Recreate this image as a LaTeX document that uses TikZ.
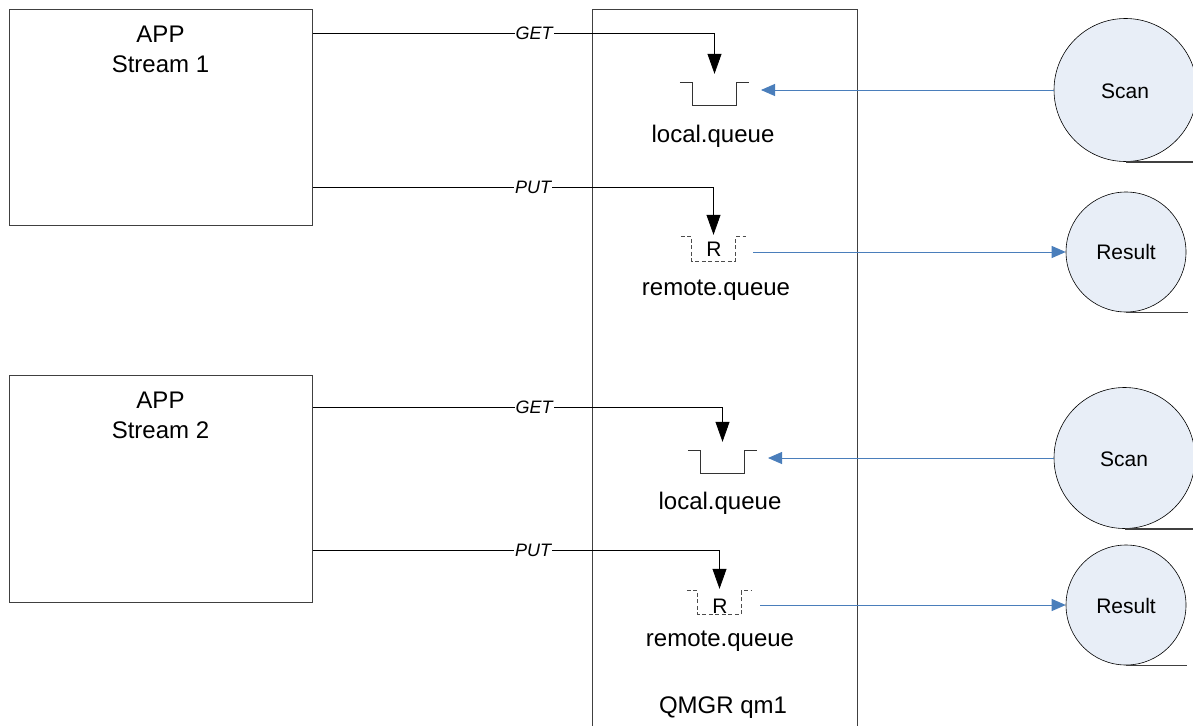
\documentclass[tikz,border=0pt]{standalone}
\usepackage{fontspec}
\setmainfont{Liberation Sans}
\usetikzlibrary{arrows.meta}
\definecolor{lnblue}{HTML}{4A7EBB}
\definecolor{circfill}{HTML}{E8EEF7}
\definecolor{boxline}{HTML}{404040}
\begin{document}
\begin{tikzpicture}[x=1pt,y=-1pt,
  appbox/.style={draw=boxline, line width=0.9pt, anchor=north west, minimum width=303pt, inner sep=0pt},
  qmgrbox/.style={draw=boxline, line width=0.9pt, anchor=north west, minimum width=265pt, minimum height=740pt, inner sep=0pt},
  bigtext/.style={anchor=base, inner sep=0pt, font=\fontsize{24}{28}\selectfont},
  circtext/.style={anchor=base, inner sep=0pt, font=\fontsize{21}{25}\selectfont},
  flowlbl/.style={fill=white, inner xsep=1pt, inner ysep=2pt, font=\fontsize{18}{21}\selectfont\itshape},
  qslot/.style={minimum width=43pt, inner sep=0pt},
  qline/.style={draw=black!80, line width=0.9pt},
  rline/.style={draw=black!70, line width=0.9pt, dash pattern=on 4pt off 2.5pt},
  flow/.style={draw=black, line width=0.8pt, -{Triangle[length=20pt,width=14pt]}},
  blueflow/.style={draw=lnblue, line width=0.9pt, -{Triangle[length=14pt,width=12pt]}},
  tape/.style={circle, draw=black, line width=0.6pt, fill=circfill, inner sep=0pt},
  tapeline/.style={draw=black!75, line width=1.4pt}
]
\useasboundingbox (0,0) rectangle (1193,725);
\clip (0,0) rectangle (1193,725);

% application boxes
\node[appbox, minimum height=216pt] (app1) at (9,9) {};
\node[bigtext] (app1a) at (160.5,42) {APP};
\node[bigtext] (app1b) at (160.5,73) {Stream 1};
\node[appbox, minimum height=227pt] (app2) at (9,375) {};
\node[bigtext] (app2a) at (160.5,408) {APP};
\node[bigtext] (app2b) at (160.5,438) {Stream 2};

% queue manager
\node[qmgrbox] (qmgr) at (592,9) {};
\node[bigtext] (qmgrt) at (723,713) {QMGR qm1};

% queue symbols
\node[qslot, minimum height=22pt] (lq1) at (714.5,94) {};
\node[qslot, minimum height=24pt] (rq1) at (713.5,249) {};
\node[qslot, minimum height=22pt] (lq2) at (722.5,462) {};
\node[qslot, minimum height=23pt] (rq2) at (719.5,602.5) {};

\draw[qline] ([xshift=-13pt]lq1.north west) -- (lq1.north west) -- (lq1.south west) -- (lq1.south east) -- (lq1.north east) -- ([xshift=13pt]lq1.north east);
\draw[qline] ([xshift=-13pt]lq2.north west) -- (lq2.north west) -- (lq2.south west) -- (lq2.south east) -- (lq2.north east) -- ([xshift=13pt]lq2.north east);
\draw[rline] ([xshift=-11pt]rq1.north west) -- (rq1.north west) -- (rq1.south west) -- (rq1.south east) -- (rq1.north east) -- ([xshift=11pt]rq1.north east);
\draw[rline] ([xshift=-11pt]rq2.north west) -- (rq2.north west) -- (rq2.south west) -- (rq2.south east) -- (rq2.north east) -- ([xshift=11pt]rq2.north east);

\node[circtext] (r1) at (714,256) {R};
\node[circtext] (r2) at (720,613) {R};

\node[bigtext] (lq1t) at (713,142) {local.queue};
\node[bigtext] (rq1t) at (716,295) {remote.queue};
\node[bigtext] (lq2t) at (720,509) {local.queue};
\node[bigtext] (rq2t) at (720,646) {remote.queue};

% black flows from the applications
\draw[flow] ([yshift=-24pt]app1.north east) -| ([yshift=9pt]lq1.north);
\draw[flow] ([yshift=-178pt]app1.north east) -| ([yshift=2pt]rq1.north);
\draw[flow] ([yshift=-32pt]app2.north east) -| ([yshift=9pt]lq2.north);
\draw[flow] ([yshift=-175pt]app2.north east) -| ([yshift=2pt]rq2.north);
\node[flowlbl] (get1) at (534,33) {GET};
\node[flowlbl] (put1) at (533,187) {PUT};
\node[flowlbl] (get2) at (534,407) {GET};
\node[flowlbl] (put2) at (533,550) {PUT};

% tape symbols
\node[tape, minimum size=143pt] (scan1) at (1125.5,90) {};
\node[circtext] (scan1t) at (1125,98) {Scan};
\node[tape, minimum size=120pt] (res1) at (1126,252) {};
\node[circtext] (res1t) at (1126,259) {Result};
\node[tape, minimum size=141pt] (scan2) at (1124.5,458) {};
\node[circtext] (scan2t) at (1124,466) {Scan};
\node[tape, minimum size=120pt] (res2) at (1126,605) {};
\node[circtext] (res2t) at (1126,613) {Result};

\draw[tapeline] (scan1.south) -- ++(70,0);
\draw[tapeline] (res1.south) -- ++(62,0);
\draw[tapeline] (scan2.south) -- ++(70,0);
\draw[tapeline] (res2.south) -- ++(61,0);

% blue flows
\coordinate (lq1in) at (761,90);
\coordinate (rq1out) at (753,252);
\coordinate (lq2in) at (768,458);
\coordinate (rq2out) at (760,605);
\draw[blueflow] (scan1.west) -- (lq1in);
\draw[blueflow] (rq1out) -- (res1.west);
\draw[blueflow] (scan2.west) -- (lq2in);
\draw[blueflow] (rq2out) -- (res2.west);
\end{tikzpicture}
\end{document}
